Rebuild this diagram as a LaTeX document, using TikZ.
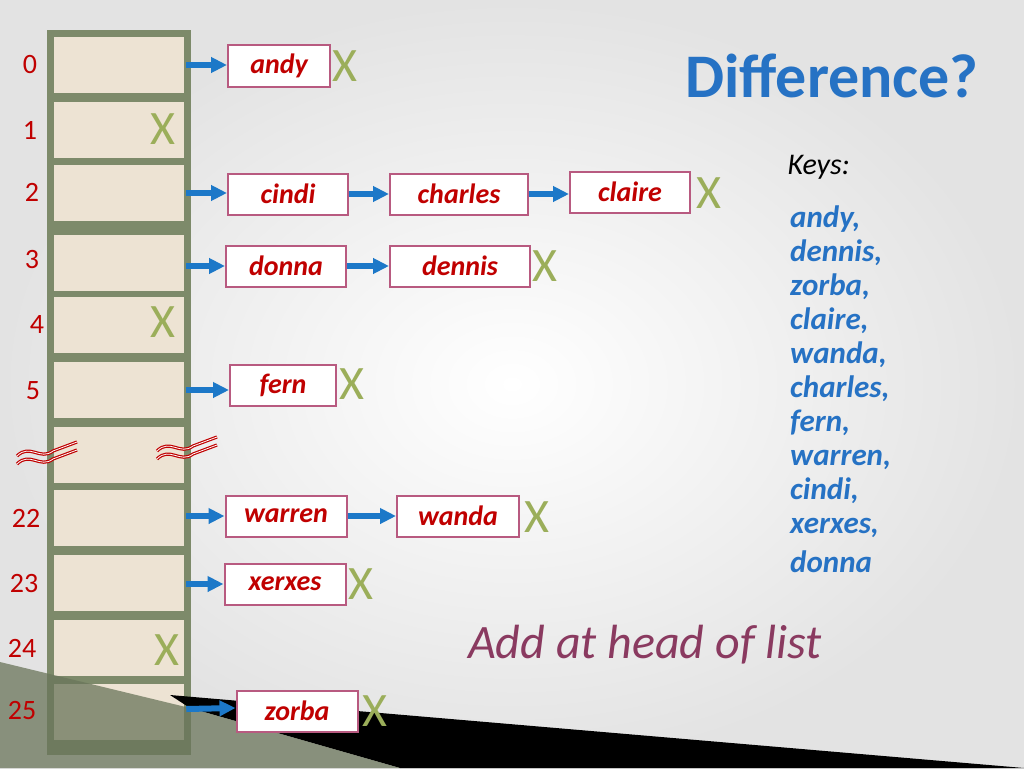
\documentclass[tikz,border=0pt]{standalone}
\usepackage{fontspec}
\setmainfont{Carlito}
\usetikzlibrary{arrows.meta,positioning}
\definecolor{slotfill}{HTML}{EDE3D3}
\definecolor{slotline}{HTML}{7D8A6A}
\definecolor{boxline}{HTML}{B85A80}
\definecolor{namered}{HTML}{C00000}
\definecolor{xgreen}{HTML}{9BAE5A}
\definecolor{arrowblue}{HTML}{1C78C8}
\definecolor{keyblue}{HTML}{2672C4}
\definecolor{headline}{HTML}{8A3A60}
\tikzset{
  cell/.style={draw=slotline,line width=2.5pt,fill=slotfill,minimum width=132pt,minimum height=58pt,inner sep=0pt},
  namebox/.style={draw=boxline,line width=2pt,fill=white,minimum height=41pt,inner sep=0pt,font=\fontsize{28}{30}\selectfont\bfseries\itshape,text=namered},
  idx/.style={font=\fontsize{28}{30}\selectfont,text=namered},
  cross/.style={font=\fontsize{48}{50}\selectfont,text=xgreen,inner sep=0pt},
  link/.style={-{Triangle[length=16pt,width=15pt]},line width=6pt,draw=arrowblue}
}
\begin{document}
\begin{tikzpicture}[x=1pt,y=-1pt]
\useasboundingbox (0,0) rectangle (1024,768);
\shade[inner color=white,outer color=gray!22] (0,0) rectangle (1024,768);
% table
\fill[slotline] (47,30) rectangle (191,755);
\foreach \n/\y in {c0/65,c1/130,c2/193,c3/263,c4/325,c5/390,cg/455,c22/518,c23/583,c24/648,c25/712}
  \node[cell] (\n) at (119,\y) {};
% corner
\fill[black] (170,695) -- (1024,768) -- (400,768) -- (190,708) -- cycle;
\fill[slotline!85!black,opacity=.75] (0,662) -- (190,708) -- (400,768) -- (0,768) -- cycle;
% indices
\foreach \t/\x/\y in {0/30/65,1/30/130,2/32/192,3/32/260,4/37/325,5/33/391,22/26/518,23/24/584,24/22/648,25/22/710}
  \node[idx] at (\x,\y) {\t};
% break marks
\foreach \x/\y in {45/455,185/450}
  \foreach \d in {-4,4}
    \draw[namered,line width=1.2pt,double=white,double distance=0.8pt]
      (\x-28,\y+\d+5) .. controls (\x-15,\y+\d-8) and (\x-5,\y+\d+10) .. (\x+8,\y+\d) -- (\x+32,\y+\d-9);
% names
\node[namebox,minimum width=102pt] (andy) at (279,66) {andy};
\node[namebox,minimum width=120pt] (cindi) at (288,194) {cindi};
\node[namebox,minimum width=138pt] (charles) at (459,194) {charles};
\node[namebox,minimum width=120pt] (claire) at (630,192) {claire};
\node[namebox,minimum width=120pt] (donna) at (286,266) {donna};
\node[namebox,minimum width=140pt] (dennis) at (460,266) {dennis};
\node[namebox,minimum width=106pt] (fern) at (283,385) {fern};
\node[namebox,minimum width=121pt] (warren) at (286,516) {warren};
\node[namebox,minimum width=122pt] (wanda) at (458,516) {wanda};
\node[namebox,minimum width=121pt] (xerxes) at (285,584) {xerxes};
\node[namebox,minimum width=121pt] (zorba) at (297,711) {zorba};
% links
\draw[link] (c0.east) -- (andy.west |- c0.east);
\draw[link] (c2.east) -- (cindi.west |- c2.east);
\draw[link] (cindi) -- (charles);
\draw[link] (charles) -- (claire.west |- charles.east);
\draw[link] (c3.east |- donna.west) -- (donna);
\draw[link] (donna) -- (dennis);
\draw[link] (c5.east) -- (fern.west |- c5.east);
\draw[link] (c22.east |- warren.west) -- (warren);
\draw[link] (warren) -- (wanda);
\draw[link] (c23.east |- xerxes.west) -- (xerxes);
\draw[link] ([yshift=3pt]c25.east) -- ([yshift=3pt]zorba.west);
% crosses
\foreach \n/\x/\y in {x0/345/66,x1/163/129,x2/709/193,x3/545/266,x4/163/322,x5/352/384,x22/537/517,x23/361/584,x24/167/650,x25/375/711}
  \node[cross] (\n) at (\x,\y) {X};
% text
\node[font=\fontsize{62}{64}\selectfont\bfseries,text=keyblue] (title) at (832,76) {Difference?};
\node[anchor=north west,font=\fontsize{30}{32}\selectfont\itshape] (keys) at (784,152) {Keys:};
\node[anchor=north west,align=left,inner sep=0pt,font=\fontsize{31}{34}\selectfont\bfseries\itshape,text=keyblue] (keylist) at (790,206)
  {andy,\\dennis,\\zorba,\\claire,\\wanda,\\charles,\\fern,\\warren,\\cindi,\\xerxes,\\[5pt]donna};
\node[font=\fontsize{48}{50}\selectfont\itshape,text=headline] (head) at (645,645) {Add at head of list};
\end{tikzpicture}
\end{document}
